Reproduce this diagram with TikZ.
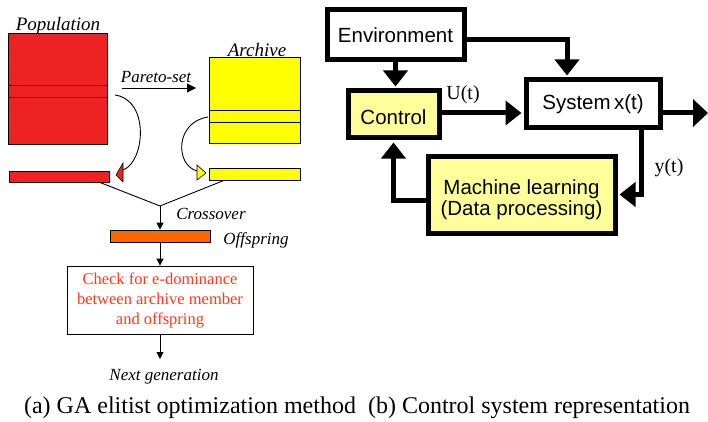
\documentclass[tikz,border=0pt]{standalone}
\usepackage{fontspec}
\setmainfont{Liberation Serif}
\newfontfamily\sansf{Liberation Sans}
\usetikzlibrary{arrows.meta}
\definecolor{popred}{RGB}{238,34,34}
\definecolor{archyel}{RGB}{255,255,0}
\definecolor{offor}{RGB}{255,102,0}
\definecolor{chktxt}{RGB}{250,60,30}
\definecolor{lightyel}{RGB}{255,255,153}
\begin{document}
\begin{tikzpicture}[x=1pt,y=-1pt,
  blk/.style={draw=black, line width=0.8pt, inner sep=0pt, anchor=north west},
  lbl/.style={font=\itshape\fontsize{17}{20}\selectfont, inner sep=0pt},
  thinarr/.style={line width=0.9pt, -{Triangle[length=7pt,width=7pt]}},
  thk/.style={draw=black, line width=5pt, inner sep=0pt, font=\sansf\fontsize{20.5}{22}\selectfont},
  bigarr/.style={line width=5pt, -{Triangle[length=16pt,width=24pt]}, shorten >=2pt},
  ser/.style={font=\fontsize{20}{22}\selectfont, inner sep=0pt}]
\useasboundingbox (0,0) rectangle (708,422);

% ---------------- (a) ----------------
\node[blk, fill=popred, minimum width=99pt, minimum height=111pt] (pop) at (8,33) {};
\node[blk, fill=popred, minimum width=99pt, minimum height=12pt] (popband) at (8,85) {};
\node[lbl, font=\itshape\fontsize{19}{22}\selectfont] (poplbl) at (58,26) {Population};

\node[blk, fill=archyel, minimum width=91pt, minimum height=86pt] (arch) at (209,57) {};
\node[blk, fill=archyel, minimum width=91pt, minimum height=12pt] (archband) at (209,110) {};
\node[lbl, font=\itshape\fontsize{19}{22}\selectfont] (archlbl) at (257,50) {Archive};

\node[lbl] (pareto) at (156,77) {Pareto-set};
\coordinate (pa1) at (122,88);
\coordinate (pa2) at (196,88);
\draw[line width=0.9pt, -{Triangle[length=9pt,width=9pt]}] (pa1) -- (pa2);

\node[blk, fill=popred, minimum width=100pt, minimum height=11pt] (redbar) at (9,171) {};
\node[blk, fill=archyel, minimum width=91pt, minimum height=12pt] (yelbar) at (209,168) {};

% curved arrows with separate triangular heads
\coordinate (rc1) at (115,95);
\coordinate (rc2) at (123,170);
\draw[line width=0.9pt] (rc1) .. controls (150,100) and (145,162) .. (rc2);
\draw[fill=popred, line width=0.6pt] (123,163) -- (123,182) -- (116,175) -- cycle;

\coordinate (yc1) at (208,117);
\coordinate (yc2) at (197,171);
\draw[line width=0.9pt] (yc1) .. controls (175,122) and (175,165) .. (yc2);
\draw[fill=archyel, line width=0.6pt] (197,165) -- (197,180) -- (206,173) -- cycle;

% crossover
\coordinate (merge) at (160,206);
\draw[line width=0.9pt] ([xshift=-9pt]redbar.south east) -- (merge);
\draw[line width=0.9pt] ([xshift=14pt]yelbar.south west) -- (merge);
\node[lbl] (cross) at (211,214) {Crossover};

\node[draw=black, line width=0.8pt, fill=offor, minimum width=100pt, minimum height=12pt, inner sep=0pt] (off) at (160,236) {};
\node[lbl] (offlbl) at (256,240) {Offspring};
\draw[thinarr] (merge) -- (off.north);

\node[draw=black, line width=0.8pt, fill=white, minimum width=186pt, minimum height=68pt, inner sep=0pt,
  align=center, text=chktxt, font=\fontsize{16.5}{20}\selectfont] (check) at (160,300)
  {Check for e-dominance\\between archive member\\and offspring};
\draw[thinarr] (off.south) -- (check.north);

\coordinate (nextpt) at (160,359);
\draw[thinarr] (check.south) -- (nextpt);
\node[lbl] (next) at (164,377) {Next generation};

% ---------------- (b) ----------------
\node[thk, fill=white, minimum width=137pt, minimum height=50pt] (env) at (395.5,35) {Environment};
\node[thk, fill=lightyel, minimum width=91pt, minimum height=47pt] (ctrl) at (393.5,114.5) {\raisebox{-3pt}[\height][\depth]{Control}};
\node[thk, fill=white, minimum width=134pt, minimum height=48pt] (sys) at (593,104) {System\,x(t)};
\node[thk, fill=lightyel, minimum width=187pt, minimum height=77pt, align=center] (ml) at (521.5,194.5)
  {\raisebox{-6pt}[\height][\depth]{\begin{tabular}{@{}c@{}}Machine learning\\[-1pt](Data processing)\end{tabular}}};

\draw[bigarr] (env.south) -- (env.south |- ctrl.north);
\draw[bigarr] ([yshift=-5pt]env.east) -| ([xshift=-26pt]sys.north);
\draw[bigarr] ([yshift=1.5pt]ctrl.east) -- ([yshift=1.5pt]ctrl.east -| sys.west);
\coordinate (out) at (708,113);
\draw[line width=5pt, -{Triangle[length=15pt,width=27pt]}] ([yshift=1.5pt]ctrl.east -| sys.east) -- (out);
\draw[bigarr] ([xshift=48pt]sys.south) |- (ml.east);
\draw[bigarr] ([yshift=-5.5pt]ml.west) -| (ctrl.south);

\node[ser] (ut) at (463,95) {U(t)};
\node[ser] (yt) at (669,168) {y(t)};

% caption
\node[font=\fontsize{24}{28}\selectfont, inner sep=0pt] (cap) at (357,408)
  {(a) GA elitist optimization method\ \ (b) Control system representation};
\end{tikzpicture}
\end{document}
